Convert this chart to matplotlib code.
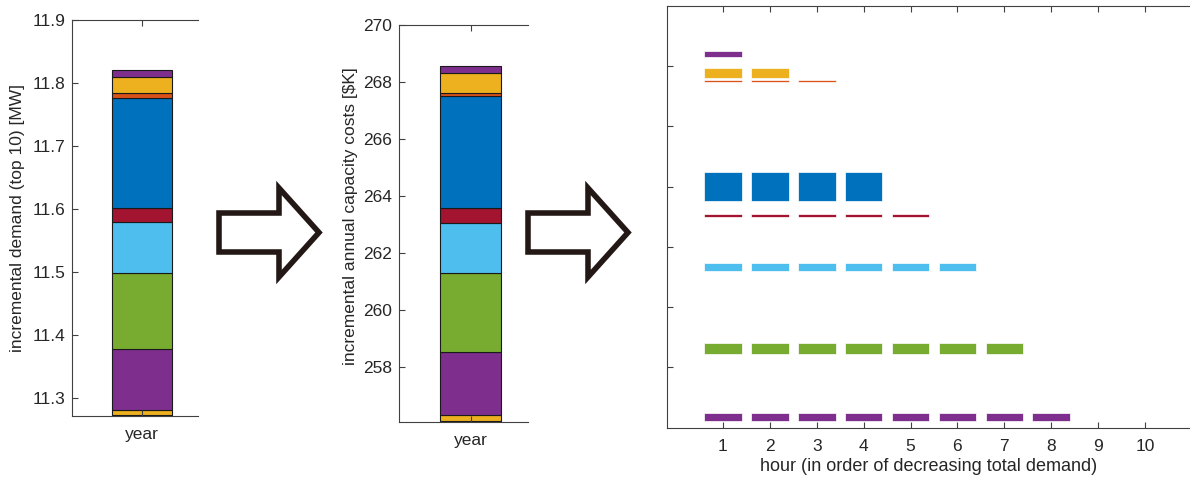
import matplotlib
matplotlib.use("Agg")
import matplotlib.pyplot as plt
from matplotlib.patches import Polygon
import numpy as np

plt.rcParams['font.family'] = ['Liberation Sans', 'DejaVu Sans']

# ---------------- data ----------------
# MATLAB default colour order, used cyclically for the stacked segments
seg_colors = ['#0072BD', '#D95319', '#EDB120', '#7E2F8E', '#77AC30',
              '#4DBEEE', '#A2142F', '#0072BD', '#D95319', '#EDB120', '#7E2F8E']

bar_category = ['year']

# incremental demand (top 10) [MW]: base + stacked increments
demand_segments = [11.270, 0.002, 0.009, 0.097, 0.121, 0.080, 0.022,
                   0.176, 0.007, 0.0265, 0.0105]
demand_ylim = [11.271, 11.9]
demand_ticks = [11.3, 11.4, 11.5, 11.6, 11.7, 11.8, 11.9]

# incremental annual capacity costs [$K]
cost_segments = [256.06, 0.03, 0.21, 2.227, 2.753, 1.756, 0.527,
                 3.954, 0.105, 0.703, 0.246]
cost_ylim = [256.07, 270]
cost_ticks = [258, 260, 262, 264, 266, 268, 270]

# right panel: demand levels per hour (bottom, top) and number of hours
level_hours = [8, 7, 6, 5, 4, 3, 2, 1]
level_lo = [0.116, 1.217, 2.604, 3.490, 3.760, 5.734, 5.805, 6.144]
level_hi = [0.249, 1.410, 2.737, 3.540, 4.246, 5.762, 5.971, 6.253]
level_colors = ['#7E2F8E', '#77AC30', '#4DBEEE', '#A2142F', '#0072BD',
                '#D95319', '#EDB120', '#7E2F8E']
hour_ticks = list(range(1, 11))
level_ticks = [1, 2, 3, 4, 5, 6]

# ---------------- figure ----------------
W, H = 1190, 480
fig = plt.figure(figsize=(W / 100, H / 100), dpi=100)

def rect(l, t, r, b):
    return [l / W, 1 - b / H, (r - l) / W, (b - t) / H]

axcol = '#404040'
txtcol = '#262626'
fs = 12.5

def style(ax):
    for s in ['left', 'bottom', 'top']:
        ax.spines[s].set_color(axcol)
        ax.spines[s].set_linewidth(0.8)
    ax.spines['right'].set_visible(False)
    ax.tick_params(direction='in', top=True, right=False, length=4,
                   color=axcol, labelcolor=txtcol, labelsize=fs, width=0.8)
    ax.tick_params(axis='x', pad=8)
    ax.tick_params(axis='y', pad=5)

def stacked(ax, segs, ylim, ticks, fmt):
    bottom = 0.0
    for v, c in zip(segs, seg_colors):
        ax.bar(bar_category, [v], bottom=bottom, width=0.515, color=c,
               edgecolor='#1a1a1a', linewidth=0.8)
        bottom += v
    ax.set_xlim(-0.6, 0.48)
    ax.set_ylim(*ylim)
    ax.set_yticks(ticks)
    ax.set_yticklabels([fmt.format(t) for t in ticks])
    style(ax)

ax1 = fig.add_axes(rect(72, 20.3, 198.3, 416))
stacked(ax1, demand_segments, demand_ylim, demand_ticks, '{:.1f}')
fig.text(17.5 / W, 1 - 218 / H, 'incremental demand (top 10) [MW]',
         rotation=90, ha='center', va='center', fontsize=fs, color=txtcol)

ax2 = fig.add_axes(rect(399.3, 25, 527.7, 421.7))
stacked(ax2, cost_segments, cost_ylim, cost_ticks, '{:d}')
fig.text(350 / W, 1 - 216 / H, 'incremental annual capacity costs [$K]',
         rotation=90, ha='center', va='center', fontsize=fs, color=txtcol)

ax3 = fig.add_axes(rect(666.7, 5.7, 1190, 427.7))
for n, lo, hi, c in zip(level_hours, level_lo, level_hi, level_colors):
    hrs = np.arange(1, n + 1)
    ax3.bar(hrs, [hi - lo] * n, bottom=lo, width=0.8, color=c,
            edgecolor='white', linewidth=0.5)
ax3.set_xlim(-0.2, 10.96)
ax3.set_ylim(0, 7)
ax3.set_xticks(hour_ticks)
ax3.set_yticks(level_ticks)
ax3.set_yticklabels([])
style(ax3)
ax3.set_xlabel('hour (in order of decreasing total demand)', fontsize=fs + 0.5,
               color=txtcol, labelpad=3)

# ---------------- block arrows ----------------
def arrow(dx):
    pts = [(219, 213), (279, 213), (279, 188), (319, 232.5), (279, 277),
           (279, 252), (219, 252)]
    xy = [((x + dx) / W, 1 - y / H) for x, y in pts]
    fig.patches.append(Polygon(xy, closed=True, fill=False,
                               edgecolor='#231815', linewidth=4,
                               joinstyle='miter', transform=fig.transFigure,
                               figure=fig))

arrow(0)
arrow(309)

fig.savefig('out.png', dpi=100)
